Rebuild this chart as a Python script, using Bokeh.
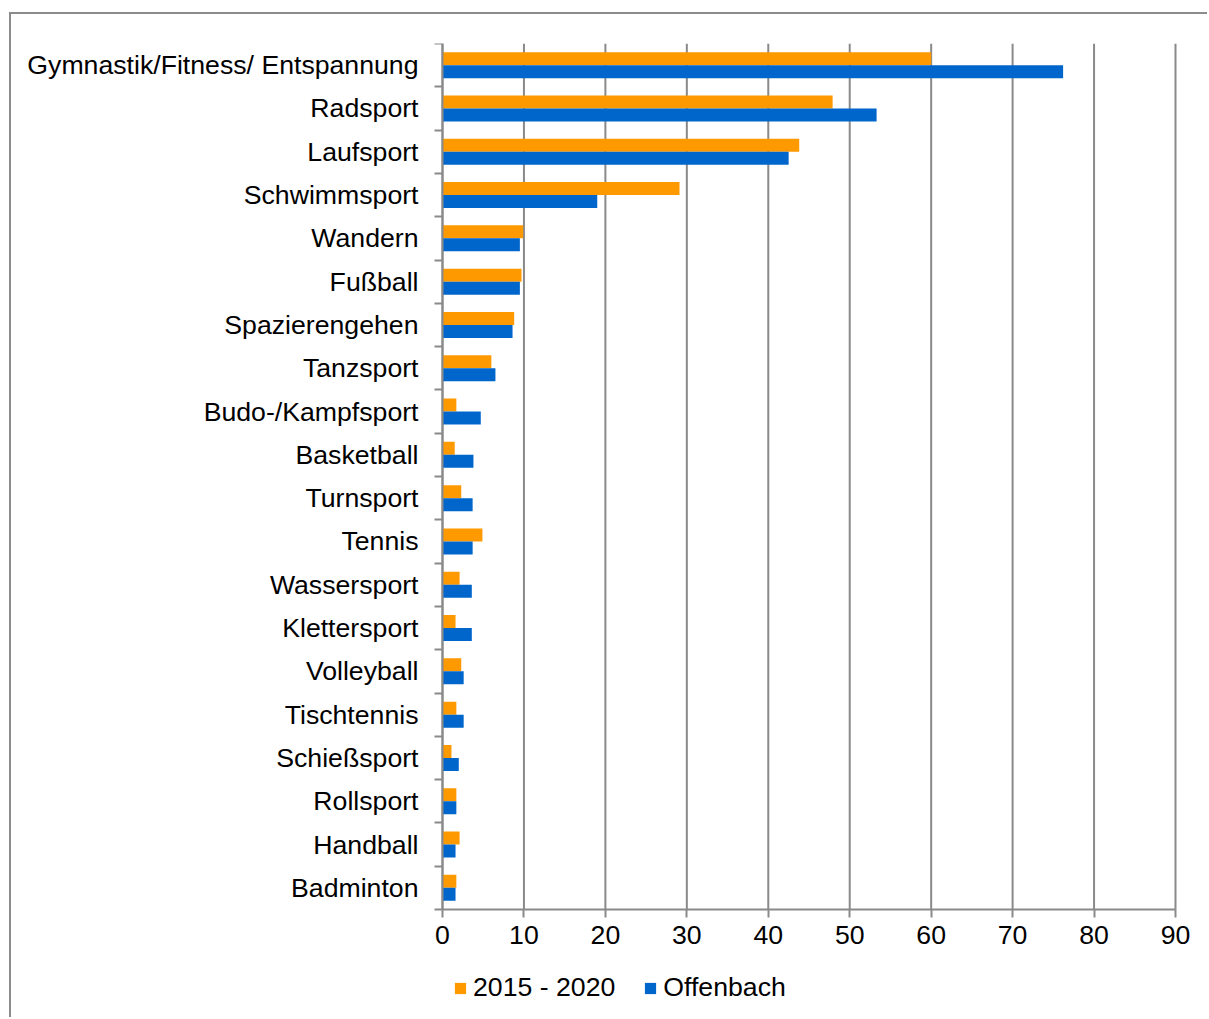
from bokeh.plotting import figure
from bokeh.models import (ColumnDataSource, Range1d, FixedTicker, Legend, LegendItem,
                          LinearAxis)
from bokeh.transform import dodge
from bokeh.embed import file_html
from bokeh.resources import INLINE

categories = ["Gymnastik/Fitness/ Entspannung", "Radsport", "Laufsport", "Schwimmsport",
              "Wandern", "Fußball", "Spazierengehen", "Tanzsport", "Budo-/Kampfsport",
              "Basketball", "Turnsport", "Tennis", "Wassersport", "Klettersport",
              "Volleyball", "Tischtennis", "Schießsport", "Rollsport", "Handball", "Badminton"]
series_2015_2020 = [60.0, 47.9, 43.8, 29.1, 9.9, 9.7, 8.8, 6.0, 1.7, 1.5,
                    2.3, 4.9, 2.1, 1.6, 2.3, 1.7, 1.1, 1.7, 2.1, 1.7]
series_offenbach = [76.2, 53.3, 42.5, 19.0, 9.5, 9.5, 8.6, 6.5, 4.7, 3.8,
                    3.7, 3.7, 3.6, 3.6, 2.6, 2.6, 2.0, 1.7, 1.6, 1.6]
x_ticks = [0, 10, 20, 30, 40, 50, 60, 70, 80, 90]
legend_labels = ["2015 - 2020", "Offenbach"]

n = len(categories)
pos = [n - 1 - i + 0.5 for i in range(n)]
src = ColumnDataSource(dict(cat=categories, pos=pos, a=series_2015_2020, b=series_offenbach))
grid_src = ColumnDataSource(dict(x=x_ticks, y0=[0] * len(x_ticks), y1=[n] * len(x_ticks)))

FONT = "Liberation Sans"
FS = "26.67px"
GRAY = "#8a8a8a"
ORANGE = "#FF9900"
BLUE = "#0066CC"

# layout in pixels: 733 px for 0..90, 866 px for the 20 bands, extra room around
x_max = x_ticks[-1]
axis_px = 733
pad_l, pad_r = 12, 18
k = axis_px / x_max
band_px = 866
frame_h = 969
y_min = -n * (frame_h - band_px) / band_px

p = figure(frame_width=axis_px + pad_l + pad_r, frame_height=frame_h,
           output_backend="svg", toolbar_location=None,
           x_range=Range1d(-pad_l / k, x_max + pad_r / k), y_range=Range1d(y_min, n),
           min_border_left=431 - pad_l, min_border_right=14, min_border_top=29,
           min_border_bottom=5)
p.styles = {"border-left": "2px solid #8c8c8c", "border-top": "2px solid #8c8c8c",
            "margin-left": "9px", "margin-top": "12px"}
p.outline_line_color = None
p.background_fill_color = "white"
p.border_fill_color = "white"
p.xgrid.grid_line_color = None
p.ygrid.grid_line_color = None

# vertical gridlines over the category area
p.segment(x0="x", y0="y0", x1="x", y1="y1", source=grid_src, line_color=GRAY, line_width=2)

r1 = p.hbar(y=dodge("pos", 0.15, range=p.y_range), right="a", left=0, height=0.3, source=src,
            fill_color=ORANGE, line_color=None)
r2 = p.hbar(y=dodge("pos", -0.15, range=p.y_range), right="b", left=0, height=0.3, source=src,
            fill_color=BLUE, line_color=None)

# x axis at y=0
xa = p.xaxis[0]
xa.fixed_location = 0
xa.bounds = (0, x_max)
xa.ticker = FixedTicker(ticks=x_ticks, minor_ticks=[])
xa.axis_line_color = GRAY
xa.axis_line_width = 2
xa.major_tick_line_color = GRAY
xa.major_tick_line_width = 2
xa.major_tick_out = 8
xa.major_tick_in = 0
xa.minor_tick_line_color = None
xa.major_label_text_font = FONT
xa.major_label_text_font_size = FS
xa.major_label_text_color = "black"
xa.major_label_standoff = 8

# y axis labels (panel axis, labels only)
ya = p.yaxis[0]
ya.ticker = FixedTicker(ticks=pos, minor_ticks=[])
ya.major_label_overrides = {pv: c for pv, c in zip(pos, categories)}
ya.axis_line_color = None
ya.major_tick_line_color = None
ya.minor_tick_line_color = None
ya.major_tick_out = 0
ya.major_tick_in = 0
ya.major_label_text_font = FONT
ya.major_label_text_font_size = FS
ya.major_label_text_color = "black"
ya.major_label_standoff = 12

# y axis line with category boundary ticks, at x=0
yline = LinearAxis(fixed_location=0, bounds=(0, n),
                   ticker=FixedTicker(ticks=[], minor_ticks=list(range(n + 1))),
                   axis_line_color=GRAY, axis_line_width=2,
                   major_tick_line_color=None, major_label_text_font_size="0px",
                   minor_tick_line_color=GRAY, minor_tick_line_width=2,
                   minor_tick_out=8, minor_tick_in=0)
p.add_layout(yline, "left")

legend = Legend(items=[LegendItem(label=legend_labels[0], renderers=[r1]),
                       LegendItem(label=legend_labels[1], renderers=[r2])],
                orientation="horizontal", location=(11 + pad_l, 9),
                label_text_font=FONT, label_text_font_size=FS, label_text_color="black",
                glyph_width=14, glyph_height=14, label_standoff=6, spacing=28,
                padding=0, margin=0, border_line_color=None, background_fill_alpha=0,
                label_height=14)
p.add_layout(legend, "center")

open("out.html", "w").write(file_html(p, INLINE))
